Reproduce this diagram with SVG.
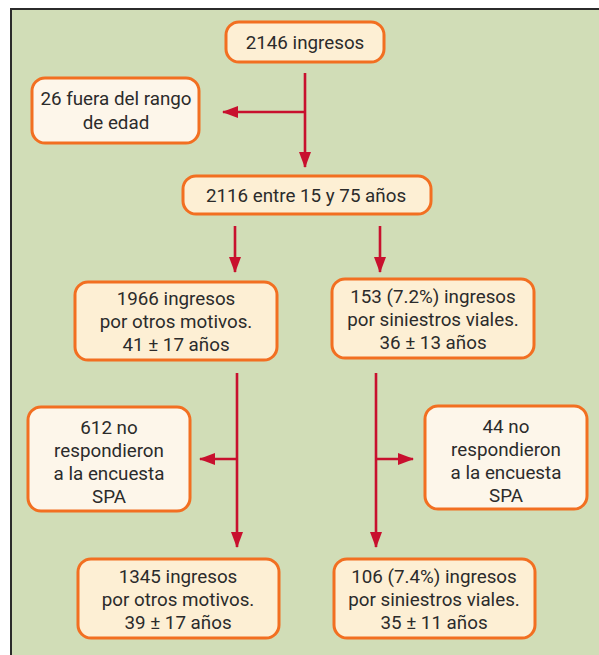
<svg xmlns="http://www.w3.org/2000/svg" width="599" height="655" viewBox="0 0 599 655">
<defs>
<style>
.main{fill:#fdefd4;stroke:#f26f21;stroke-width:3}
.side{fill:#fdf6ea;stroke:#f26f21;stroke-width:3}
text{font-family:Roboto,"Liberation Sans",sans-serif;font-size:18.8px;fill:#2b2b2b;text-anchor:middle}
.ln{stroke:#c8102e;stroke-width:2.6;fill:none}
</style>
<marker id="ah" viewBox="0 0 16 12" refX="15" refY="6" markerWidth="16" markerHeight="12" markerUnits="userSpaceOnUse" orient="auto">
<path d="M0,0 L16,6 L0,12 Z" fill="#c8102e"/>
</marker>
</defs>
<rect x="0" y="0" width="599" height="655" fill="#ffffff"/>
<rect x="11" y="9" width="620" height="680" fill="#d1ddb7" stroke="#2b2b2b" stroke-width="2"/>
<g id="connectors">
<path class="ln" d="M305,73 V167" marker-end="url(#ah)"/>
<path class="ln" d="M305,112 H223" marker-end="url(#ah)"/>
<path class="ln" d="M235,226 V272" marker-end="url(#ah)"/>
<path class="ln" d="M380,226 V272" marker-end="url(#ah)"/>
<path class="ln" d="M237,373 V547" marker-end="url(#ah)"/>
<path class="ln" d="M237,459 H200" marker-end="url(#ah)"/>
<path class="ln" d="M376,373 V547" marker-end="url(#ah)"/>
<path class="ln" d="M376,459 H413" marker-end="url(#ah)"/>
</g>
<g id="n2146">
<rect class="main" x="226" y="22" width="158" height="40" rx="13"/>
<text x="305" y="49">2146 ingresos</text>
</g>
<g id="n26">
<rect class="side" x="32" y="78" width="167" height="65" rx="13"/>
<text x="116" y="105">26 fuera del rango</text>
<text x="116" y="128.5">de edad</text>
</g>
<g id="n2116">
<rect class="main" x="183" y="176" width="248" height="38" rx="13"/>
<text x="306" y="202">2116 entre 15 y 75 años</text>
</g>
<g id="n1966">
<rect class="main" x="75" y="282" width="202" height="78" rx="13"/>
<text x="176" y="304.5">1966 ingresos</text>
<text x="176" y="327.5">por otros motivos.</text>
<text x="176" y="350.5">41 ± 17 años</text>
</g>
<g id="n153">
<rect class="main" x="332" y="279" width="202" height="79" rx="13"/>
<text x="433" y="302.5">153 (7.2%) ingresos</text>
<text x="433" y="325.5">por siniestros viales.</text>
<text x="433" y="348.5">36 ± 13 años</text>
</g>
<g id="n612">
<rect class="side" x="28" y="407" width="162" height="104" rx="13"/>
<text x="109" y="433.5">612 no</text>
<text x="109" y="456.5">respondieron</text>
<text x="109" y="479.5">a la encuesta</text>
<text x="109" y="502.5">SPA</text>
</g>
<g id="n44">
<rect class="side" x="425" y="406" width="162" height="103" rx="13"/>
<text x="506" y="432.5">44 no</text>
<text x="506" y="455.5">respondieron</text>
<text x="506" y="478.5">a la encuesta</text>
<text x="506" y="501.5">SPA</text>
</g>
<g id="n1345">
<rect class="main" x="78" y="559" width="201" height="79" rx="13"/>
<text x="178" y="582.5">1345 ingresos</text>
<text x="178" y="605.5">por otros motivos.</text>
<text x="178" y="628.5">39 ± 17 años</text>
</g>
<g id="n106">
<rect class="main" x="334" y="559" width="201" height="79" rx="13"/>
<text x="434" y="582.5">106 (7.4%) ingresos</text>
<text x="434" y="605.5">por siniestros viales.</text>
<text x="434" y="628.5">35 ± 11 años</text>
</g>
</svg>
